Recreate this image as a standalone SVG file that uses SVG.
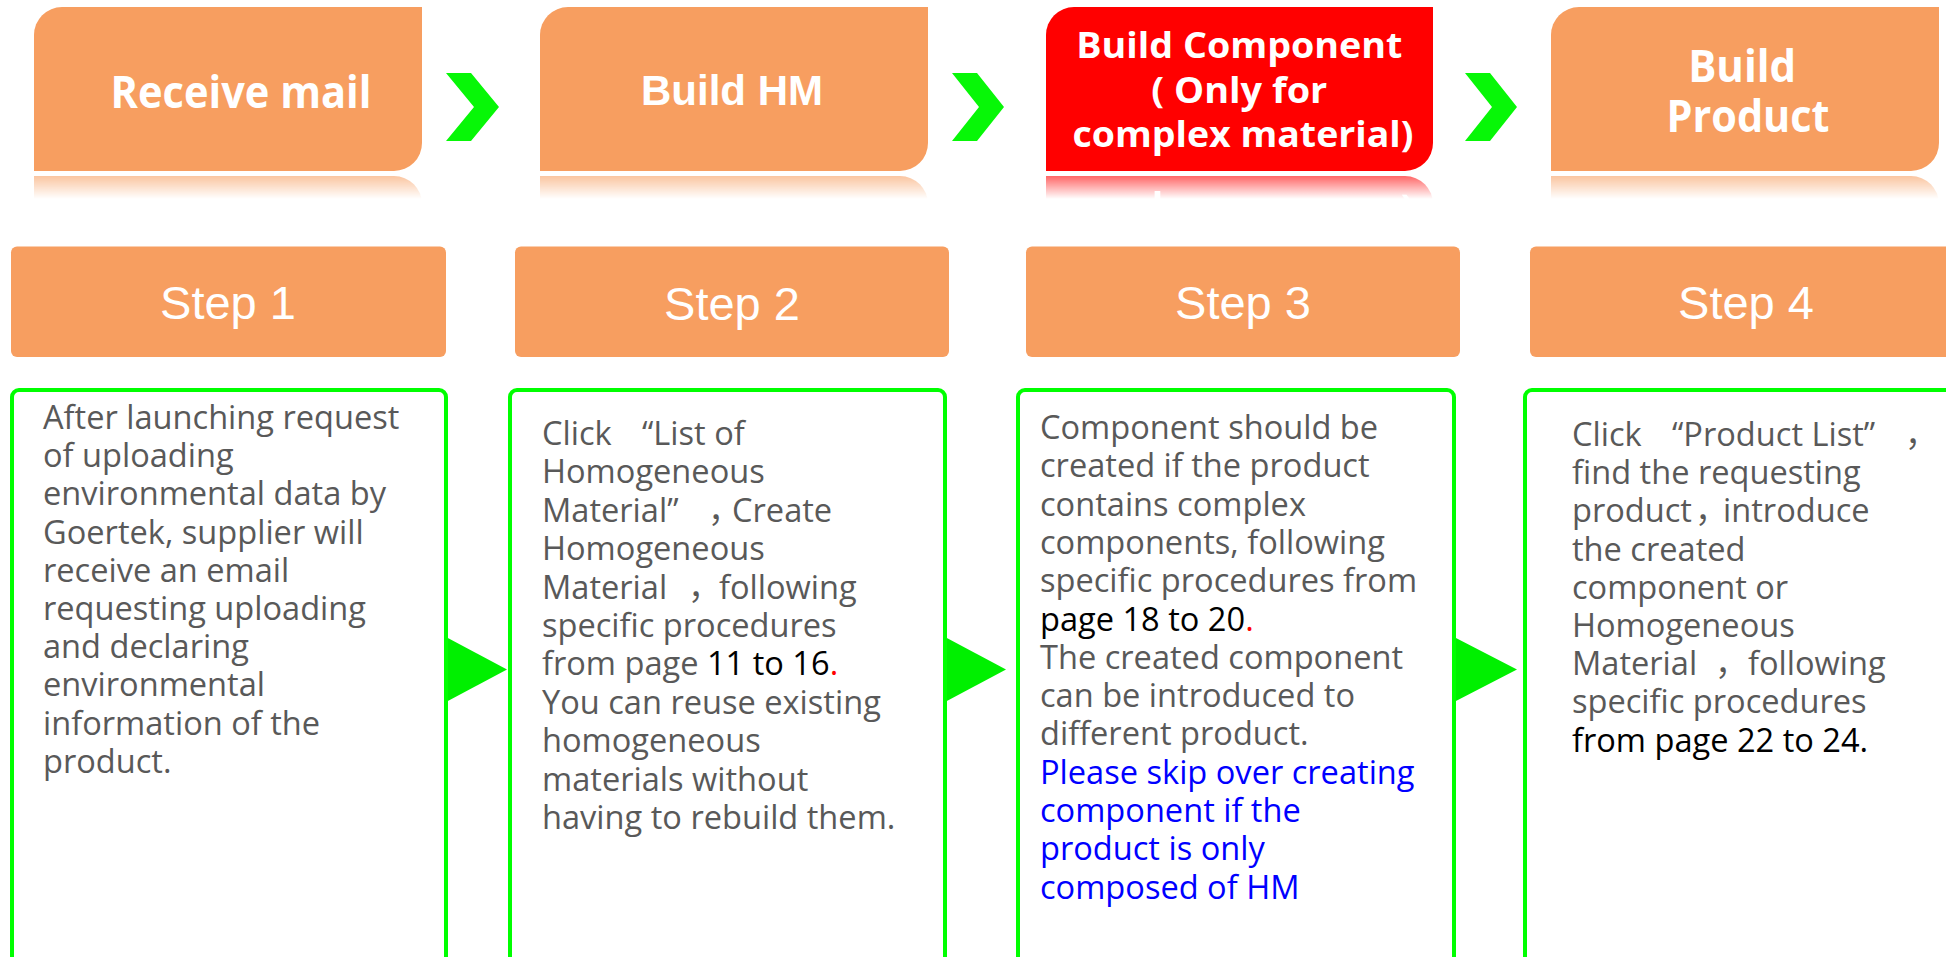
<svg xmlns="http://www.w3.org/2000/svg" xmlns:xlink="http://www.w3.org/1999/xlink" width="1946" height="957" viewBox="0 0 1946 957">
<style>
.orange{fill:#F79E60}
.red{fill:#FF0000}
.title{fill:#FFFFFF;font-family:"Open Sans","Noto Sans",sans-serif;font-weight:bold;text-anchor:middle}
.titleA{fill:#FFFFFF;font-family:"Liberation Sans",Arial,sans-serif;font-weight:bold;text-anchor:middle}
.step{fill:#FFFFFF;font-family:"Liberation Sans",Arial,sans-serif;font-size:47px;text-anchor:middle}
.hdr{fill:#F79E60}
.card{fill:#FFFFFF;stroke:#00FF00;stroke-width:4}
.chev{fill:#07F707}
.tri{fill:#00F000}
.body{fill:#595959;font-family:"Open Sans","Noto Sans","Noto Sans CJK SC",sans-serif;font-size:32.6px}
.blk{fill:#000000}
.rdot{fill:#FF0000}
.blue{fill:#0000FF}
.cjk{font-family:"Noto Sans CJK SC",sans-serif}
</style>
<defs>
<linearGradient id="fade" gradientUnits="userSpaceOnUse" x1="0" y1="176" x2="0" y2="199">
<stop offset="0" stop-color="#FFFFFF" stop-opacity="0.6"/>
<stop offset="1" stop-color="#FFFFFF" stop-opacity="0"/>
</linearGradient>
<mask id="reflMask" maskUnits="userSpaceOnUse" x="0" y="172" width="1946" height="60">
<rect x="0" y="172" width="1946" height="60" fill="url(#fade)"/>
</mask>
<path id="box1" d="M62,7 H422 V143 A28,28 0 0 1 394,171 H34 V35 A28,28 0 0 1 62,7 Z"/>
<path id="box2" d="M568,7 H928 V143 A28,28 0 0 1 900,171 H540 V35 A28,28 0 0 1 568,7 Z"/>
<path id="box3" d="M1074,7 H1433 V143 A28,28 0 0 1 1405,171 H1046 V35 A28,28 0 0 1 1074,7 Z"/>
<path id="box4" d="M1579,7 H1939 V143 A28,28 0 0 1 1911,171 H1551 V35 A28,28 0 0 1 1579,7 Z"/>
</defs>
<rect x="0" y="0" width="1946" height="957" fill="#FFFFFF"/>

<g id="connectors">
<polygon class="chev" points="446,73 471,73 499,107 471,141 446,141 474,107"/>
<polygon class="chev" points="952,73 977,73 1004,107 977,141 952,141 979,107"/>
<polygon class="chev" points="1465,73 1490,73 1517,107 1490,141 1465,141 1492,107"/>
</g>

<g id="node-receive-mail">
<use xlink:href="#box1" class="orange"/>
<text class="title" x="241" y="108" font-size="45" textLength="261" lengthAdjust="spacingAndGlyphs">Receive mail</text>
<g mask="url(#reflMask)"><g transform="translate(0,347) scale(1,-1)">
<use xlink:href="#box1" class="orange"/>
</g></g>
</g>

<g id="node-build-hm">
<use xlink:href="#box2" class="orange"/>
<text class="titleA" x="732" y="105" font-size="43" textLength="182" lengthAdjust="spacingAndGlyphs">Build HM</text>
<g mask="url(#reflMask)"><g transform="translate(0,347) scale(1,-1)">
<use xlink:href="#box2" class="orange"/>
</g></g>
</g>

<g id="node-build-component">
<use xlink:href="#box3" class="red"/>
<text class="title" font-size="36">
<tspan x="1244" y="58" textLength="326" lengthAdjust="spacingAndGlyphs">Build Component</tspan>
<tspan x="1244" y="103" textLength="176" lengthAdjust="spacingAndGlyphs">( Only for</tspan>
<tspan x="1243" y="147" textLength="341" lengthAdjust="spacingAndGlyphs">complex material)</tspan>
</text>
<g mask="url(#reflMask)"><g transform="translate(0,347) scale(1,-1)">
<use xlink:href="#box3" class="red"/>
<text class="title" font-size="36"><tspan x="1243" y="147" textLength="341" lengthAdjust="spacingAndGlyphs">complex material)</tspan></text>
</g></g>
</g>

<g id="node-build-product">
<use xlink:href="#box4" class="orange"/>
<text class="title" font-size="45">
<tspan x="1748" y="82" textLength="108" lengthAdjust="spacingAndGlyphs">Build</tspan>
<tspan x="1748" y="132" textLength="163" lengthAdjust="spacingAndGlyphs">Product</tspan>
</text>
<g mask="url(#reflMask)"><g transform="translate(0,347) scale(1,-1)">
<use xlink:href="#box4" class="orange"/>
<text class="title" font-size="45"><tspan x="1748" y="132" textLength="163" lengthAdjust="spacingAndGlyphs">Product</tspan></text>
</g></g>
</g>

<g id="step1-header">
<rect class="hdr" x="11" y="246.5" width="435" height="110.5" rx="6"/>
<text class="step" x="228" y="319">Step 1</text>
</g>
<g id="step2-header">
<rect class="hdr" x="515" y="246.5" width="434" height="110.5" rx="6"/>
<text class="step" x="732" y="320">Step 2</text>
</g>
<g id="step3-header">
<rect class="hdr" x="1026" y="246.5" width="434" height="110.5" rx="6"/>
<text class="step" x="1243" y="319">Step 3</text>
</g>
<g id="step4-header">
<rect class="hdr" x="1530" y="246.5" width="432" height="110.5" rx="6"/>
<text class="step" x="1746" y="319">Step 4</text>
</g>

<g id="arrows">
<polygon class="tri" points="446,637 507,669.5 446,702"/>
<polygon class="tri" points="945,637 1006,669.5 945,702"/>
<polygon class="tri" points="1454,637 1517,669.5 1454,702"/>
</g>

<g id="step1-card">
<rect class="card" x="12" y="390" width="434" height="620" rx="7"/>
<text class="body">
<tspan x="43" y="429">After launching request</tspan>
<tspan x="43" y="467.2">of uploading</tspan>
<tspan x="43" y="505.4">environmental data by</tspan>
<tspan x="43" y="543.6">Goertek, supplier will</tspan>
<tspan x="43" y="581.8">receive an email</tspan>
<tspan x="43" y="620">requesting uploading</tspan>
<tspan x="43" y="658.2">and declaring</tspan>
<tspan x="43" y="696.4">environmental</tspan>
<tspan x="43" y="734.6">information of the</tspan>
<tspan x="43" y="772.8">product.</tspan>
</text>
</g>

<g id="step2-card">
<rect class="card" x="510" y="390" width="435" height="620" rx="7"/>
<text class="body">
<tspan x="542" y="445">Click</tspan><tspan x="642" y="445">“List of</tspan>
<tspan x="542" y="483.4">Homogeneous</tspan>
<tspan x="542" y="521.8">Material”</tspan><tspan class="cjk" x="708" y="521.8">，</tspan><tspan x="732" y="521.8">Create</tspan>
<tspan x="542" y="560.2">Homogeneous</tspan>
<tspan x="542" y="598.6">Material</tspan><tspan class="cjk" x="688" y="598.6">，</tspan><tspan x="719" y="598.6">following</tspan>
<tspan x="542" y="637">specific procedures</tspan>
<tspan x="542" y="675.4">from page <tspan class="blk">11 to 16</tspan><tspan class="rdot">.</tspan></tspan>
<tspan x="542" y="713.8">You can reuse existing</tspan>
<tspan x="542" y="752.2">homogeneous</tspan>
<tspan x="542" y="790.6">materials without</tspan>
<tspan x="542" y="829">having to rebuild them.</tspan>
</text>
</g>

<g id="step3-card">
<rect class="card" x="1018" y="390" width="436" height="620" rx="7"/>
<text class="body">
<tspan x="1040" y="439">Component should be</tspan>
<tspan x="1040" y="477.3">created if the product</tspan>
<tspan x="1040" y="515.6">contains complex</tspan>
<tspan x="1040" y="553.9">components, following</tspan>
<tspan x="1040" y="592.2">specific procedures from</tspan>
<tspan x="1040" y="630.5" class="blk">page 18 to 20<tspan class="rdot">.</tspan></tspan>
<tspan x="1040" y="668.8">The created component</tspan>
<tspan x="1040" y="707.1">can be introduced to</tspan>
<tspan x="1040" y="745.4">different product.</tspan>
<tspan x="1040" y="783.7" class="blue">Please skip over creating</tspan>
<tspan x="1040" y="822" class="blue">component if the</tspan>
<tspan x="1040" y="860.3" class="blue">product is only</tspan>
<tspan x="1040" y="898.6" class="blue">composed of HM</tspan>
</text>
</g>

<g id="step4-card">
<rect class="card" x="1525" y="390" width="437" height="620" rx="7"/>
<text class="body">
<tspan x="1572" y="446">Click</tspan><tspan x="1672" y="446">“Product List”</tspan><tspan class="cjk" x="1905" y="446">，</tspan>
<tspan x="1572" y="484.2">find the requesting</tspan>
<tspan x="1572" y="522.4">product</tspan><tspan class="cjk" x="1695" y="522.4">，</tspan><tspan x="1723" y="522.4">introduce</tspan>
<tspan x="1572" y="560.6">the created</tspan>
<tspan x="1572" y="598.8">component or</tspan>
<tspan x="1572" y="637">Homogeneous</tspan>
<tspan x="1572" y="675.2">Material</tspan><tspan class="cjk" x="1715" y="675.2">，</tspan><tspan x="1748" y="675.2">following</tspan>
<tspan x="1572" y="713.4">specific procedures</tspan>
<tspan x="1572" y="751.6" class="blk">from page 22 to 24.</tspan>
</text>
</g>
</svg>
